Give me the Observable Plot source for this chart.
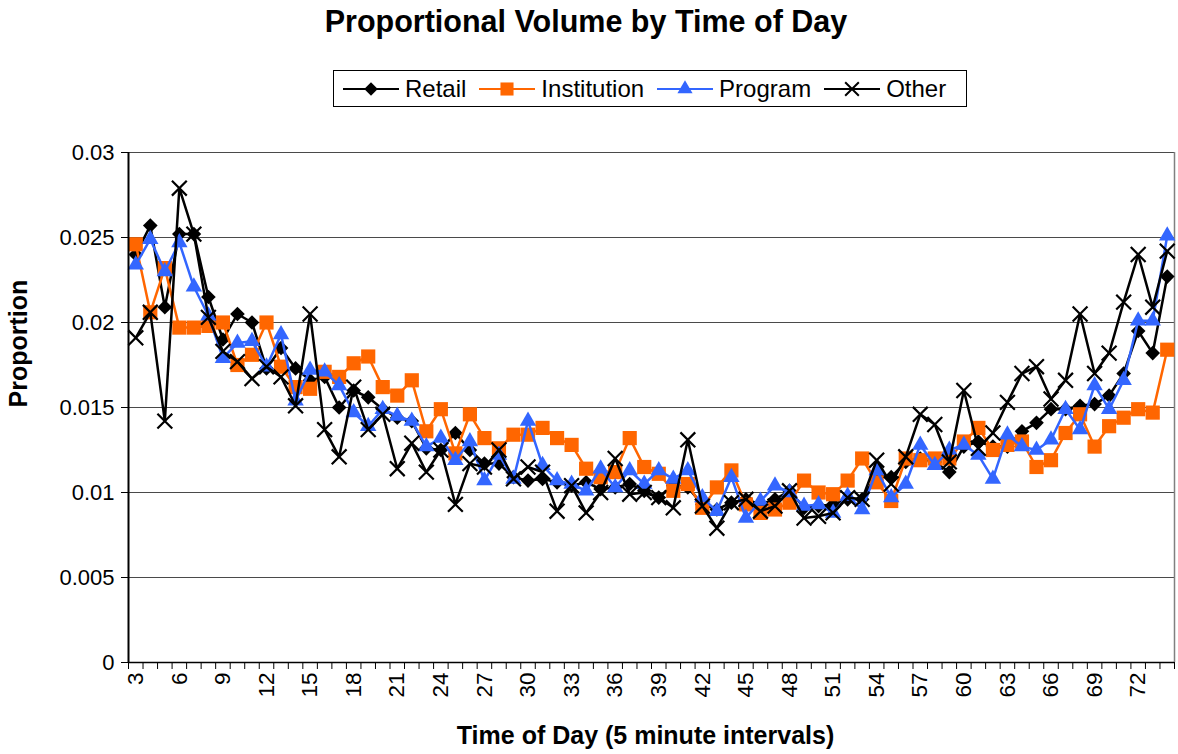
<!DOCTYPE html>
<html><head><meta charset="utf-8">
<script src="https://cdn.jsdelivr.net/npm/d3@7"></script>
<script src="https://cdn.jsdelivr.net/npm/@observablehq/plot@0.6"></script>
<style>
body{margin:0;background:#fff;font-family:"Liberation Sans",Arial,sans-serif;color:#000;}
#wrap{position:relative;width:1178px;height:754px;overflow:hidden;}
#title{position:absolute;top:4px;left:0;width:1172px;text-align:center;font-weight:bold;font-size:30.5px;line-height:34px;}
#legend{position:absolute;left:333px;top:70px;width:634px;height:37px;border:1px solid #000;box-sizing:border-box;display:flex;align-items:center;padding-left:9px;font-size:24px;}
#legend .item{display:flex;align-items:center;margin-right:13px;}
#legend svg{display:block;}
#legend span{margin-left:6px;}
#chart{position:absolute;left:0;top:120px;}
</style></head>
<body><div id="wrap"><div id="title">Proportional Volume by Time of Day</div><div id="legend"></div><div id="chart"></div></div>
<script>
const intervals = [3,4,5,6,7,8,9,10,11,12,13,14,15,16,17,18,19,20,21,22,23,24,25,26,27,28,29,30,31,32,33,34,35,36,37,38,39,40,41,42,43,44,45,46,47,48,49,50,51,52,53,54,55,56,57,58,59,60,61,62,63,64,65,66,67,68,69,70,71,72,73,74];
const tickLabels = [3,6,9,12,15,18,21,24,27,30,33,36,39,42,45,48,51,54,57,60,63,66,69,72];
const yTicks = [0,0.005,0.01,0.015,0.02,0.025,0.03];
const retail = [0.0240,0.0257,0.0209,0.0252,0.0252,0.0215,0.0190,0.0205,0.0200,0.0173,
0.0185,0.0173,0.0166,0.0168,0.0150,0.0160,0.0156,0.0149,0.0144,0.0142,
0.0126,0.0125,0.0135,0.0125,0.0117,0.0117,0.0109,0.0107,0.0108,0.0106,
0.0104,0.0106,0.0102,0.0103,0.0105,0.0101,0.0097,0.0104,0.0103,0.0093,
0.0090,0.0094,0.0096,0.0093,0.0096,0.0101,0.0091,0.0092,0.0093,0.0096,
0.0096,0.0111,0.0109,0.0118,0.0120,0.0118,0.0112,0.0127,0.0130,0.0127,
0.0127,0.0136,0.0141,0.0149,0.0149,0.0151,0.0152,0.0157,0.0170,0.0195,
0.0182,0.0227];
const institution = [0.0246,0.0206,0.0232,0.0197,0.0197,0.0198,0.0200,0.0175,0.0181,0.0200,
0.0174,0.0162,0.0161,0.0171,0.0168,0.0176,0.0180,0.0162,0.0157,0.0166,
0.0136,0.0149,0.0123,0.0146,0.0132,0.0126,0.0134,0.0134,0.0138,0.0132,
0.0128,0.0114,0.0109,0.0112,0.0132,0.0115,0.0111,0.0101,0.0105,0.0091,
0.0103,0.0113,0.0093,0.0088,0.0090,0.0094,0.0107,0.0100,0.0099,0.0107,
0.0120,0.0106,0.0095,0.0120,0.0119,0.0120,0.0120,0.0130,0.0138,0.0125,
0.0128,0.0130,0.0115,0.0119,0.0135,0.0146,0.0127,0.0139,0.0144,0.0149,
0.0147,0.0184];
const program = [0.0234,0.0249,0.0230,0.0247,0.0221,0.0204,0.0179,0.0188,0.0189,0.0174,
0.0193,0.0154,0.0172,0.0171,0.0163,0.0147,0.0139,0.0149,0.0145,0.0142,
0.0127,0.0132,0.0119,0.0130,0.0107,0.0122,0.0108,0.0142,0.0116,0.0107,
0.0105,0.0101,0.0114,0.0103,0.0113,0.0105,0.0113,0.0108,0.0113,0.0097,
0.0089,0.0109,0.0085,0.0095,0.0104,0.0100,0.0092,0.0093,0.0088,0.0098,
0.0090,0.0113,0.0097,0.0105,0.0128,0.0116,0.0125,0.0128,0.0122,0.0108,
0.0134,0.0127,0.0125,0.0131,0.0149,0.0137,0.0163,0.0149,0.0166,0.0201,
0.0201,0.0251];
const other = [0.0191,0.0206,0.0142,0.0279,0.0252,0.0203,0.0183,0.0177,0.0167,0.0174,
0.0168,0.0151,0.0205,0.0137,0.0121,0.0162,0.0137,0.0146,0.0114,0.0129,
0.0112,0.0125,0.0093,0.0117,0.0115,0.0125,0.0108,0.0115,0.0112,0.0089,
0.0104,0.0088,0.0100,0.0120,0.0099,0.0100,0.0097,0.0091,0.0131,0.0092,
0.0079,0.0094,0.0096,0.0089,0.0092,0.0101,0.0085,0.0086,0.0088,0.0097,
0.0096,0.0119,0.0105,0.0121,0.0146,0.0140,0.0118,0.0160,0.0126,0.0135,
0.0153,0.0170,0.0174,0.0155,0.0166,0.0205,0.0170,0.0182,0.0212,0.0240,
0.0209,0.0242];

const series = [
  {name:"Retail", values:retail, color:"#000000", symbol:"diamond2", r:6.6},
  {name:"Institution", values:institution, color:"#FF6600", symbol:"square", r:8},
  {name:"Program", values:program, color:"#3366FF", symbol:"triangle", r:6.1},
  {name:"Other", values:other, color:"#000000", symbol:"times", r:6.8}
];
const rows = s => intervals.map((t,i) => ({t, v: s.values[i]}));
const boundaries = intervals.map(t => t - 0.5).concat([intervals[intervals.length-1] + 0.5]);
const fmt = d => d === 0 ? "0" : String(+d.toFixed(3));

const marks = [
  Plot.ruleY(yTicks, {stroke:"#4a4a4a", strokeWidth:1}),
  Plot.ruleX([boundaries[boundaries.length-1]], {stroke:"#808080", strokeWidth:1.5}),
];
for (const s of series) {
  const isX = s.symbol === "times";
  marks.push(Plot.line(rows(s), {x:"t", y:"v", stroke:s.color, strokeWidth:2.5}));
  marks.push(Plot.dot(rows(s), {x:"t", y:"v", symbol:s.symbol, r:s.r,
    fill: isX ? "none" : s.color, stroke: isX ? s.color : "none", strokeWidth: isX ? 2.2 : 0}));
}
marks.push(
  Plot.ruleX([boundaries[0]], {stroke:"#000", strokeWidth:2}),
  Plot.ruleY([0], {stroke:"#000", strokeWidth:1.5}),
  Plot.axisY({ticks:yTicks, tickSize:7, tickPadding:7, tickFormat:fmt, fontSize:22, label:null}),
  Plot.axisX({ticks:boundaries, tickSize:7, tickFormat:() => "", label:null}),
  Plot.axisX({ticks:tickLabels, tickSize:0, tickPadding:10, tickRotate:-90, fontSize:22.5, label:null}),
  Plot.text(["Time of Day (5 minute intervals)"], {frameAnchor:"bottom", dy:81, dx:-6, fontSize:25, fontWeight:"bold"}),
  Plot.text(["Proportion"], {frameAnchor:"left", dx:-110, rotate:-90, fontSize:25, fontWeight:"bold"})
);

const chart = Plot.plot({
  width:1178, height:634,
  marginTop:32, marginBottom:92, marginLeft:128, marginRight:4,
  x:{type:"linear", domain:[boundaries[0], boundaries[boundaries.length-1]]},
  y:{type:"linear", domain:[0, 0.03]},
  style:{fontFamily:'"Liberation Sans", Arial, sans-serif', fontSize:"21px", color:"#000", background:"#fff", overflow:"visible"},
  marks
});
document.getElementById("chart").appendChild(chart);

// legend
const legend = d3.select("#legend");
for (const s of series) {
  const item = legend.append("div").attr("class","item");
  const svg = item.append("svg").attr("width",56).attr("height",20);
  svg.append("line").attr("x1",0).attr("x2",56).attr("y1",10).attr("y2",10).attr("stroke",s.color).attr("stroke-width",2.2);
  const sym = {diamond2:d3.symbolDiamond2, square:d3.symbolSquare, triangle:d3.symbolTriangle, times:d3.symbolTimes}[s.symbol];
  const isX = s.symbol === "times";
  svg.append("path").attr("transform","translate(28,10)")
    .attr("d", d3.symbol(sym, Math.PI * s.r * s.r * 0.85)())
    .attr("fill", isX ? "none" : s.color).attr("stroke", isX ? s.color : "none").attr("stroke-width", 2);
  item.append("span").text(s.name);
}
</script></body></html>
